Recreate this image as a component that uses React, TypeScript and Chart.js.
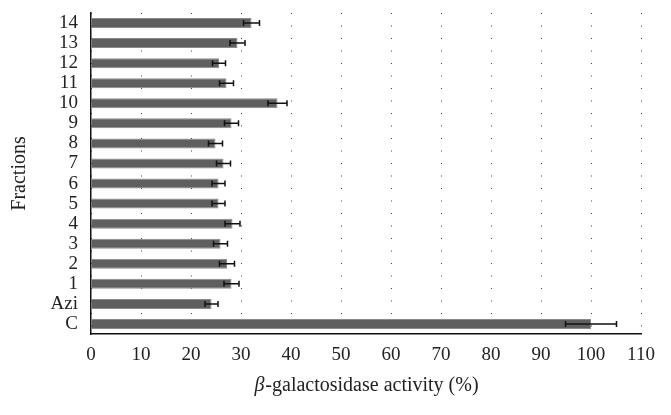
import React, { useEffect, useRef } from "react";
import { Chart, registerables } from "chart.js";

Chart.register(...registerables);

const categories = ["14", "13", "12", "11", "10", "9", "8", "7", "6", "5", "4", "3", "2", "1", "Azi", "C"];
const activity = [32.1, 29.3, 25.6, 27.1, 37.3, 28.1, 24.9, 26.5, 25.5, 25.5, 28.3, 25.9, 27.2, 28.1, 24.1, 100];
const errors = [1.6, 1.5, 1.3, 1.4, 1.9, 1.4, 1.4, 1.4, 1.3, 1.3, 1.5, 1.4, 1.5, 1.5, 1.3, 5.1];
const xTicks = [0, 10, 20, 30, 40, 50, 60, 70, 80, 90, 100, 110];

const FONT = "'Liberation Serif', 'Times New Roman', serif";
const TEXT = "#222222";

const errorBarPlugin = {
  id: "errorBars",
  afterDatasetsDraw(chart: any) {
    const meta = chart.getDatasetMeta(0);
    const xs = chart.scales.x;
    const ctx = chart.ctx;
    ctx.save();
    ctx.strokeStyle = "#111111";
    ctx.lineWidth = 1.5;
    meta.data.forEach((bar: any, i: number) => {
      const y = bar.y;
      const x1 = xs.getPixelForValue(activity[i] - errors[i]);
      const x2 = xs.getPixelForValue(activity[i] + errors[i]);
      ctx.beginPath();
      ctx.moveTo(x1, y);
      ctx.lineTo(x2, y);
      ctx.moveTo(x1, y - 3);
      ctx.lineTo(x1, y + 3);
      ctx.moveTo(x2, y - 3);
      ctx.lineTo(x2, y + 3);
      ctx.stroke();
    });
    ctx.restore();
  },
};

const xTitlePlugin = {
  id: "xTitle",
  afterDraw(chart: any) {
    const ctx = chart.ctx;
    const area = chart.chartArea;
    const cx = (area.left + area.right) / 2;
    const y = 386;
    ctx.save();
    ctx.fillStyle = TEXT;
    ctx.textBaseline = "middle";
    const italic = "italic 20px " + FONT;
    const normal = "20px " + FONT;
    ctx.font = italic;
    const w1 = ctx.measureText("β").width;
    ctx.font = normal;
    const rest = "-galactosidase activity (%)";
    const w2 = ctx.measureText(rest).width;
    const start = cx - (w1 + w2) / 2;
    ctx.font = italic;
    ctx.textAlign = "left";
    ctx.fillText("β", start, y);
    ctx.font = normal;
    ctx.fillText(rest, start + w1 + 1, y);
    ctx.restore();
  },
};

export default function App() {
  const ref = useRef<HTMLCanvasElement>(null);
  useEffect(() => {
    if (!ref.current) return;
    const chart = new Chart(ref.current, {
      type: "bar",
      data: {
        labels: categories,
        datasets: [
          {
            data: activity,
            backgroundColor: "#5f5f5f",
            borderColor: "#8a8a8a",
            borderWidth: 1,
            barPercentage: 0.5,
            categoryPercentage: 1,
          },
        ],
      },
      options: {
        indexAxis: "y",
        animation: false,
        responsive: false,
        maintainAspectRatio: false,
        layout: { padding: { top: 13, right: 30, left: 0, bottom: 0 } },
        plugins: { legend: { display: false }, tooltip: { enabled: false } },
        scales: {
          x: {
            type: "linear",
            min: 0,
            max: 110,
            afterBuildTicks: (s: any) => {
              s.ticks = xTicks.map((v) => ({ value: v }));
            },
            afterFit: (s: any) => {
              s.height = 81;
              s.paddingLeft = 0;
              s.paddingRight = 0;
            },
            grid: {
              display: true,
              drawTicks: false,
              color: "#444444",
              lineWidth: 1,
            },
            border: { display: true, color: "#111111", width: 1.5, dash: [1, 11.5] },
            ticks: {
              color: TEXT,
              font: { family: FONT, size: 19 },
              padding: 10,
              maxRotation: 0,
            },
          },
          y: {
            type: "category",
            afterFit: (s: any) => {
              s.width = 91;
              s.paddingTop = 0;
              s.paddingBottom = 0;
            },
            grid: { display: false, drawTicks: false },
            border: { display: true, color: "#111111", width: 1.5 },
            ticks: {
              color: TEXT,
              font: { family: FONT, size: 19 },
              padding: 13,
              autoSkip: false,
            },
            title: {
              display: true,
              text: "Fractions",
              color: TEXT,
              font: { family: FONT, size: 20 },
              padding: { top: 8, bottom: 0 },
            },
          },
        },
      },
      plugins: [errorBarPlugin, xTitlePlugin],
    });
    return () => chart.destroy();
  }, []);
  return (
    <div style={{ position: "fixed", left: 0, top: 0, width: 671, height: 415, background: "#ffffff" }}>
      <canvas ref={ref} width={671} height={415} style={{ width: 671, height: 415 }} />
    </div>
  );
}
